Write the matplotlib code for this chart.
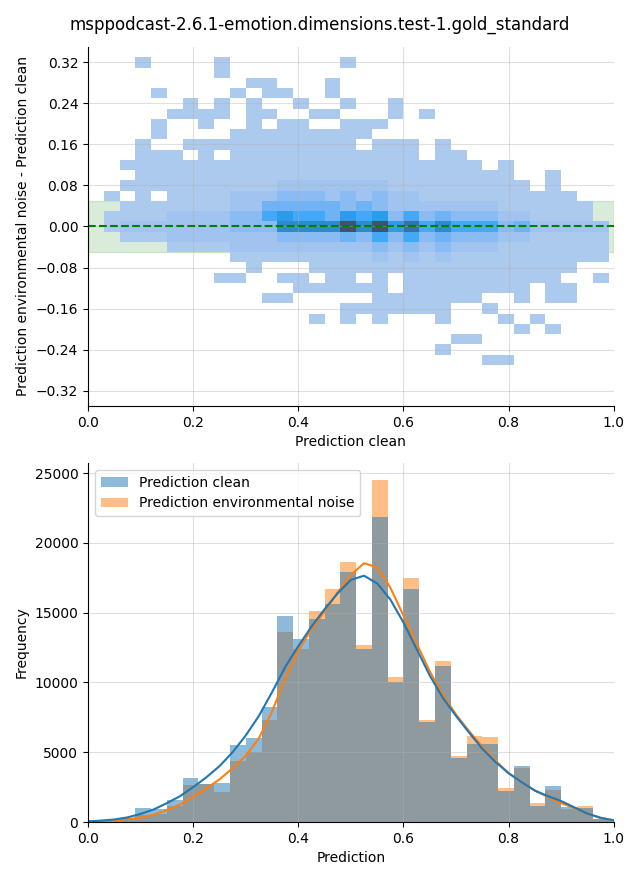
import numpy as np
import matplotlib
matplotlib.use('Agg')
import matplotlib.pyplot as plt
from matplotlib.colors import to_rgba
from matplotlib.patches import Patch
import seaborn as sns

TITLE = 'msppodcast-2.6.1-emotion.dimensions.test-1.gold_standard'

# top: 2D histogram, x = clean prediction, y = noise - clean
DIFF_X_EDGES = np.linspace(0.0, 0.99, 34)
DIFF_Y_EDGES = np.linspace(-0.27, 0.33, 31)
# one char per cell, '.' = empty, digit = index into LEVEL_COUNTS
# columns written in three groups of 11 bins
LEVEL_COUNTS = [0, 15, 350, 850, 1400, 2100, 2800, 3850, 5250, 7000]
DIFF_ROWS = [  # first row is y = 0.32, last row y = -0.26
    "...1....1.. .....1..... ...........",
    "........1.. ........... ...........",
    "..........1 1...1...... ...........",
    "....1....1. 11..1...... ...........",
    "......1.1.1 ..1..1..1.. ...........",
    ".....1111.1 1..11...1.1 ...........",
    "....1..1..1 .11..111... ...........",
    "....1....11 1111111.... ...........",
    "...1..11111 111111.111. 1..........",
    "...111.1.11 1111111111. 11.........",
    "..111111111 11111111111 111.1......",
    "...11111111 11111111111 11111..1...",
    "..111111111 12222222111 111111.1...",
    ".1.1.111122 23332323221 111111111..",
    "..111111122 44444343222 2222111111.",
    ".1111222233 56554656353 4333221111.",
    ".1222222233 37777979685 75553422222",
    "..111222222 23333435353 43332211111",
    ".....111122 22222223232 32221111111",
    ".........11 11111112121 21111111111",
    "..........1 ...11111111 111111111..",
    "........11. .11.11.1.11 11111111..1",
    "........... ..111111.11 111111.11..",
    "........... 11.....1111 111..1.11..",
    "........... .....111111 1..1.......",
    "........... ...1.1.1... 1...1.1....",
    "........... ........... .....1.1...",
    "........... ........... .11........",
    "........... ........... 1..........",
    "........... ........... ...11......",
]

# bottom: histograms of both predictions
PRED_EDGES = np.linspace(0.0, 1.02, 35)
CLEAN_COUNTS = [80, 150, 300, 1000, 900, 1580, 3160, 2700, 2780, 5530,
                6030, 8260, 14730, 13150, 14580, 15590, 17890, 12400, 21840, 10060,
                16670, 7180, 11210, 4600, 5600, 5600, 2230, 4020, 1150, 2590,
                1080, 1000, 200, 100]
NOISE_COUNTS = [80, 150, 250, 500, 550, 1170, 2660, 2750, 2180, 4400,
                5030, 7330, 13650, 12430, 15090, 16670, 18600, 12700, 24500, 10420,
                17460, 7330, 11570, 4740, 6180, 6100, 2440, 3880, 1370, 2300,
                930, 1150, 200, 100]
LABELS = ['Prediction clean', 'Prediction environmental noise']

# density curves (scaled to counts), read every 0.025
KDE_X = np.linspace(0.0, 1.0, 41)
CLEAN_KDE = [50, 100, 180, 330, 580, 900, 1350, 1850, 2500, 3200,
             4000, 5000, 6200, 7600, 9300, 11100, 12600, 14000, 15250, 16400,
             17350, 17650, 17100, 15950, 14300, 12400, 10500, 8900, 7600, 6400,
             5250, 4300, 3500, 2850, 2250, 1850, 1500, 1050, 600, 300, 120]
NOISE_KDE = [20, 60, 120, 200, 320, 520, 850, 1250, 1800, 2400,
             3050, 3850, 4750, 6000, 7900, 10300, 12300, 13800, 15100, 16450,
             17700, 18550, 18250, 16800, 14800, 12800, 10800, 9100, 7700, 6500,
             5400, 4400, 3500, 2850, 2250, 1800, 1350, 1000, 600, 300, 120]


def row_counts(row):
    row = row.replace(' ', '')
    return [0 if c == '.' else LEVEL_COUNTS[int(c)] for c in row]


fig, (ax1, ax2) = plt.subplots(2, 1, figsize=(6.4, 8.8))
fig.subplots_adjust(left=0.1375, right=0.959, top=0.9466, bottom=0.0659, hspace=0.159)
fig.suptitle(TITLE, y=0.982)

# --- top panel
grid = np.array([row_counts(r) for r in DIFF_ROWS[::-1]])
xc = (DIFF_X_EDGES[:-1] + DIFF_X_EDGES[1:]) / 2
yc = (DIFF_Y_EDGES[:-1] + DIFF_Y_EDGES[1:]) / 2
xx, yy = np.meshgrid(xc, yc)
mask = grid > 0

ax1.axhspan(-0.05, 0.05, color='green', alpha=0.15)
sns.histplot(x=xx[mask], y=yy[mask], weights=grid[mask],
             bins=[list(DIFF_X_EDGES), list(DIFF_Y_EDGES)], ax=ax1)
ax1.axhline(0, color='green', linestyle='--', lw=1.5)
ax1.set_xlim(0, 1)
ax1.set_ylim(-0.35, 0.35)
ax1.set_yticks(np.arange(-0.32, 0.33, 0.08))
ax1.set_xlabel('Prediction clean')
ax1.set_ylabel('Prediction environmental noise - Prediction clean')
ax1.grid(True, alpha=0.4)

# --- bottom panel (noise drawn first so clean sits on top)
centers = (PRED_EDGES[:-1] + PRED_EDGES[1:]) / 2
for counts, color in [(NOISE_COUNTS, 'C1'), (CLEAN_COUNTS, 'C0')]:
    sns.histplot(x=centers, weights=counts, bins=list(PRED_EDGES),
                 color=color, alpha=0.5, linewidth=0, ax=ax2)
ax2.plot(KDE_X, NOISE_KDE, color='C1', lw=1.5)
ax2.plot(KDE_X, CLEAN_KDE, color='C0', lw=1.5)
ax2.set_xlim(0, 1)
ax2.set_ylim(bottom=0)
ax2.set_xlabel('Prediction')
ax2.set_ylabel('Frequency')
ax2.grid(True, alpha=0.4)
handles = [Patch(facecolor=to_rgba(c, 0.5), label=l) for c, l in zip(['C0', 'C1'], LABELS)]
ax2.legend(handles=handles, loc='upper left')

sns.despine(fig)
fig.savefig('out.png', dpi=100)
